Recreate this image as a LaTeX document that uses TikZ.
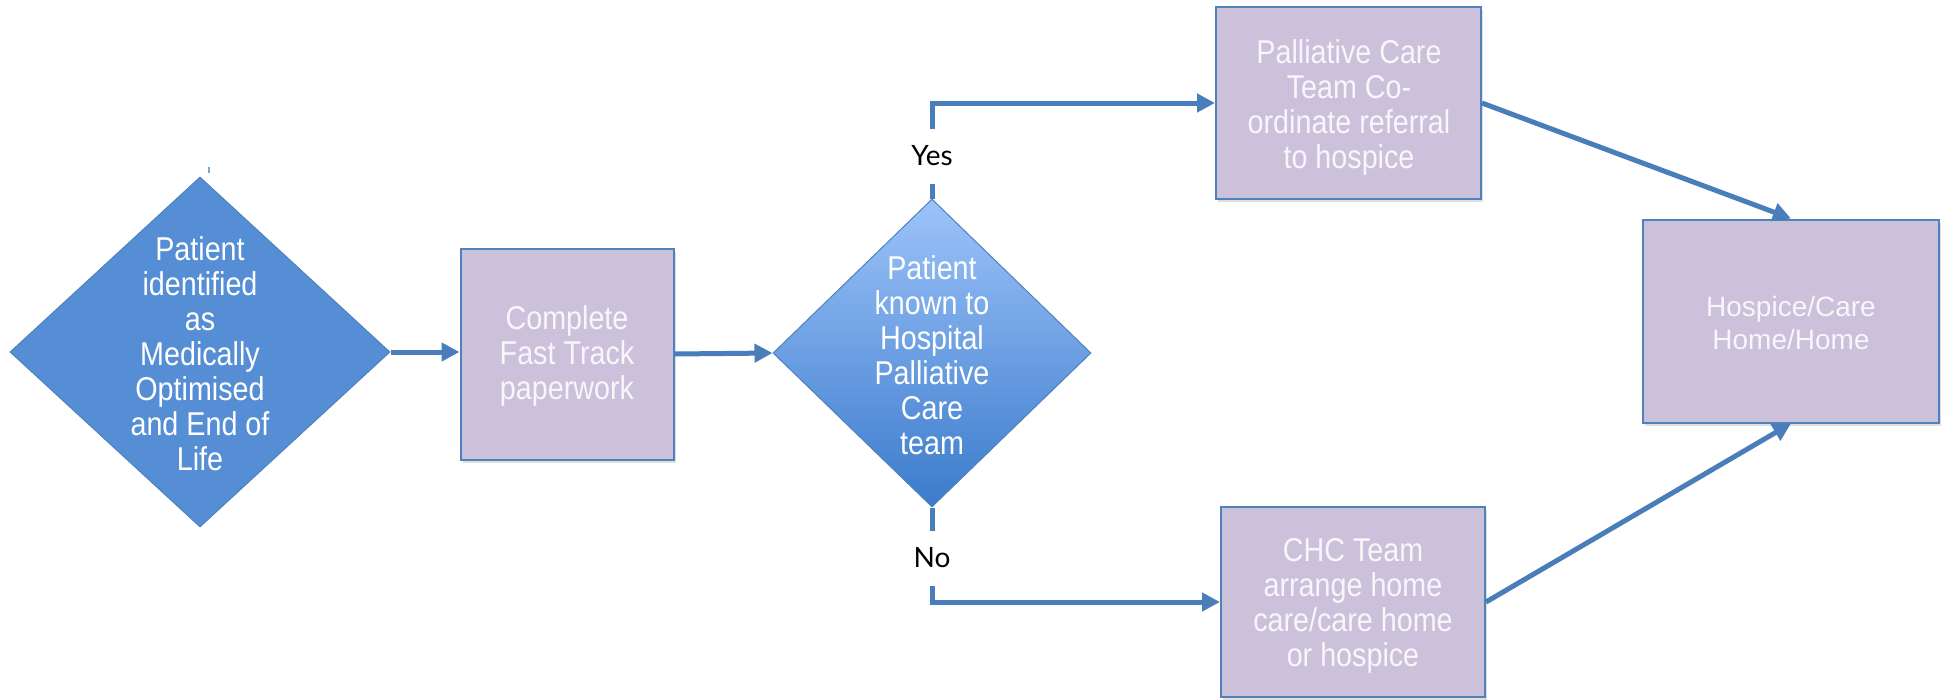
\documentclass[tikz,border=0pt]{standalone}
\usepackage{fontspec}
\setmainfont{Liberation Sans}
\newfontfamily\narrowfont[FakeStretch=0.87]{Liberation Sans}
\newfontfamily\labfont{Lato}
\usetikzlibrary{shapes.geometric,arrows.meta,shadows}
\definecolor{linec}{HTML}{4A7EBB}
\definecolor{boxfill}{HTML}{CBC1DA}
\definecolor{boxedge}{HTML}{4F81BD}
\definecolor{diafill}{HTML}{558ED5}
\definecolor{diatop}{HTML}{9DC3FA}
\definecolor{diabot}{HTML}{3B7BCB}
\definecolor{boxtext}{HTML}{F8F6FB}
\tikzset{
  x=1pt,y=-1pt,
  procbox/.style={draw=boxedge,line width=2pt,fill=boxfill,inner sep=0pt,
    drop shadow={shadow xshift=2pt,shadow yshift=-3pt,opacity=0.25}},
  diabox/.style={shape=diamond,draw=boxedge,line width=1pt,inner sep=0pt},
  txt/.style={align=center,text=white,font=\narrowfont\fontsize{33}{35}\selectfont},
  btxt/.style={align=center,text=boxtext,font=\narrowfont\fontsize{33}{35}\selectfont},
  wtxt/.style={align=center,text=boxtext,font=\fontsize{28}{33}\selectfont},
  flow/.style={draw=linec,line width=5pt,-{Triangle[length=18pt,width=18pt]}},
  yn/.style={fill=white,text=black,inner sep=0pt,minimum width=60pt,minimum height=55pt,font=\labfont\fontsize{28}{33}\selectfont}
}
\begin{document}
\begin{tikzpicture}
\useasboundingbox (0,0) rectangle (1949,699);
% nodes
\node[diabox,fill=diafill,minimum width=380pt,minimum height=350pt] (d1) at (200,352) {};
\node[txt] (d1t) at (200,354) {Patient\\identified\\as\\Medically\\Optimised\\and End of\\Life};
\coordinate (tickA) at (209,167);
\coordinate (tickB) at (209,173);
\draw[linec!70,line width=1.2pt] (tickA) -- (tickB);

\node[procbox,minimum width=213pt,minimum height=211pt] (b2) at (567,354) {};
\node[btxt] (b2t) at (567,356) {Complete\\Fast Track\\paperwork};

\node[diabox,top color=diatop,bottom color=diabot,minimum width=318pt,minimum height=308pt] (d2) at (932,353) {};
\node[txt] (d2t) at (932,355) {Patient\\known to\\Hospital\\Palliative\\Care\\team};

\node[procbox,minimum width=265pt,minimum height=192pt] (b3) at (1348.5,103) {};
\node[btxt] (b3t) at (1349,107) {Palliative Care\\Team Co-\\ordinate referral\\to hospice};

\node[procbox,minimum width=264pt,minimum height=190pt] (b4) at (1353,602) {};
\node[btxt] (b4t) at (1353,606) {CHC Team\\arrange home\\care/care home\\or hospice};

\node[procbox,minimum width=296pt,minimum height=203pt] (b5) at (1791,321) {};
\node[wtxt] (b5t) at (1791,323) {Hospice/Care\\Home/Home};

% connectors
\draw[flow] (d1.east) -- (b2.west |- d1.east);
\draw[flow] (b2.east) -- (d2.west);
\draw[flow] (d2.north) |- (b3.west);
\draw[flow] (d2.south) |- (b4.west);
\draw[flow] (b3.east) -- (b5.north);
\draw[flow] (b4.east) -- (b5.south);

% labels
\node[yn] (yes) at (932,156) {Yes};
\node[yn] (no) at (932,558) {No};
\end{tikzpicture}
\end{document}
